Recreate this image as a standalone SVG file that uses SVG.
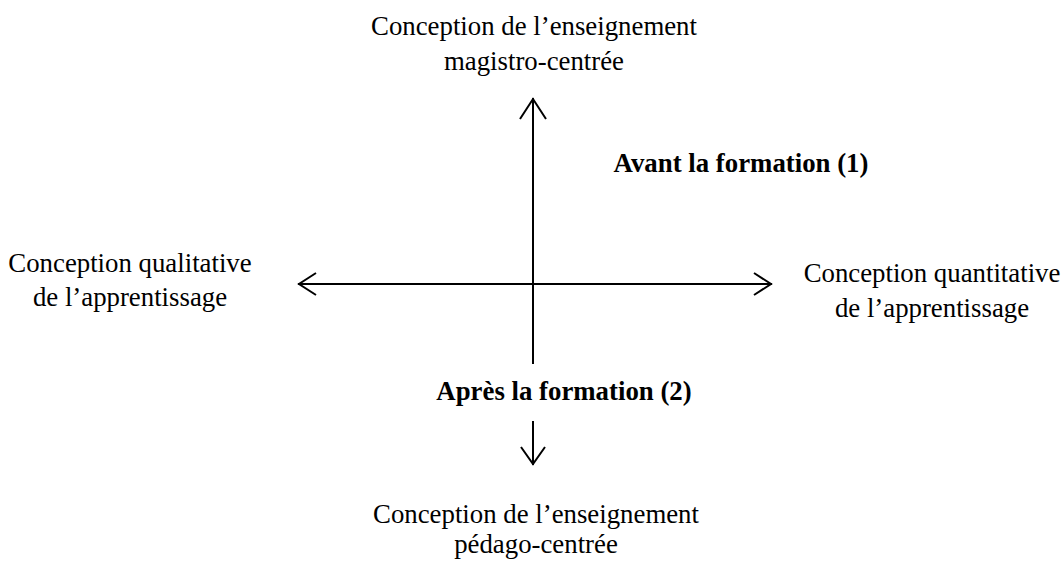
<svg xmlns="http://www.w3.org/2000/svg" width="1063" height="565" viewBox="0 0 1063 565">
<style>
text{font-family:"Liberation Serif","Times New Roman",serif;font-size:26.8px;fill:#000;text-anchor:middle}
.b{font-weight:bold}
.ln{stroke:#000;stroke-width:2;fill:none}
</style>
<rect width="1063" height="565" fill="#fff"/>
<g id="connectors">
<line class="ln" x1="533" y1="98" x2="533" y2="364"/>
<polyline class="ln" points="520,119 533,99 546,119"/>
<line class="ln" x1="298" y1="284" x2="772" y2="284"/>
<polyline class="ln" points="316,273 299,284 316,295"/>
<polyline class="ln" points="754,273 771,284 754,295"/>
<line class="ln" x1="533" y1="421" x2="533" y2="465"/>
<polyline class="ln" points="521,447 533,464 545,447"/>
</g>
<g id="top"><text x="534" y="35">Conception de l’enseignement</text><text x="534" y="70">magistro-centrée</text></g>
<g id="avant"><text class="b" x="741" y="172">Avant la formation (1)</text></g>
<g id="left"><text x="130" y="272">Conception qualitative</text><text x="130" y="306">de l’apprentissage</text></g>
<g id="right"><text x="932" y="282">Conception quantitative</text><text x="932" y="317">de l’apprentissage</text></g>
<g id="apres"><text class="b" x="564" y="400">Après la formation (2)</text></g>
<g id="bottom"><text x="536" y="523">Conception de l’enseignement</text><text x="536" y="553">pédago-centrée</text></g>
</svg>
